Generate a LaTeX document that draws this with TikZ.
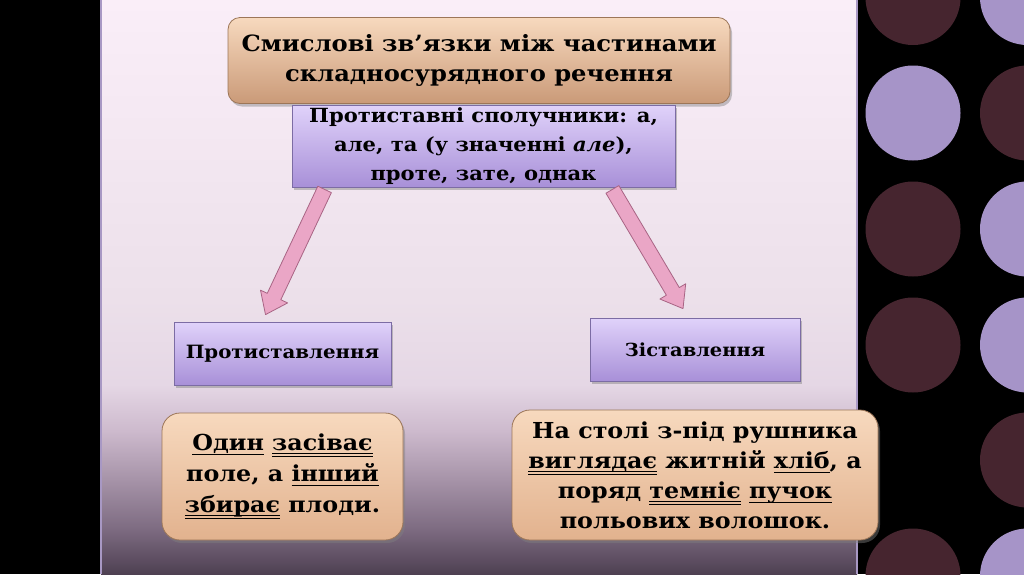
\documentclass[tikz,border=0pt]{standalone}
\usepackage{fontspec}
\setmainfont{DejaVu Serif}[FakeStretch=1.08]
\usetikzlibrary{calc,shadows}
\definecolor{cdark}{HTML}{46252F}
\definecolor{clav}{HTML}{A694C8}
\definecolor{ptop}{HTML}{FAEEF8}
\definecolor{pm}{HTML}{ECE0EA}
\definecolor{pb1}{HTML}{E5D7E5}
\definecolor{pb2}{HTML}{CDBACD}
\definecolor{pb3}{HTML}{A693A8}
\definecolor{pb4}{HTML}{7E6C82}
\definecolor{pb5}{HTML}{4E4052}
\definecolor{pedge}{HTML}{A898C4}
\definecolor{tan1}{HTML}{F7D9BE}
\definecolor{tan2}{HTML}{CA9A78}
\definecolor{tan3}{HTML}{E2B28E}
\definecolor{tanedge}{HTML}{9C7658}
\definecolor{lav1}{HTML}{E0D2FA}
\definecolor{lav2}{HTML}{A890D8}
\definecolor{lavedge}{HTML}{7C6CA4}
\definecolor{pinkfill}{HTML}{EAA6C6}
\definecolor{pinkedge}{HTML}{A86484}
\pgfdeclareverticalshading{panelshade}{100bp}{color(0bp)=(pb5); color(25bp)=(pb5); color(29bp)=(pb4); color(33.2bp)=(pb3); color(37.5bp)=(pb2); color(41.5bp)=(pb1); color(49bp)=(pm); color(75bp)=(ptop); color(100bp)=(ptop)}
\newcommand\sgl[1]{\setbox0\hbox{#1}\rlap{\raisebox{-5pt}{\rule{\wd0}{1.5pt}}}\box0\relax}
\newcommand\dbl[1]{\setbox0\hbox{#1}\rlap{\raisebox{-4pt}{\rule{\wd0}{1.1pt}}}\rlap{\raisebox{-6.8pt}{\rule{\wd0}{1.1pt}}}\box0\relax}
\newcommand\fatarrow[2]{%
 \filldraw[arrowbody] let \p1=(#1), \p2=(#2), \n1={atan2(\y2-\y1,\x2-\x1)} in
   ($(\p1)+(\n1+90:7.5pt)$) -- ($(\p2)!20pt!(\p1)+(\n1+90:7.5pt)$) -- ($(\p2)!20pt!(\p1)+(\n1+90:15pt)$) -- (\p2) -- ($(\p2)!20pt!(\p1)+(\n1-90:15pt)$) -- ($(\p2)!20pt!(\p1)+(\n1-90:7.5pt)$) -- ($(\p1)+(\n1-90:7.5pt)$) -- cycle;}
\tikzset{
 shad/.style={drop shadow={opacity=0.45, shadow xshift=2pt, shadow yshift=-3pt}},
 tanbox/.style={shad, rounded corners=#1, draw=tanedge, line width=0.8pt, top color=tan1, bottom color=tan2, align=center, inner sep=0pt, text=black},
 tanbox/.default=12pt,
 lavbox/.style={shad, draw=lavedge, line width=0.8pt, top color=lav1, bottom color=lav2, align=center, inner sep=0pt, text=black},
 arrowbody/.style={fill=pinkfill, draw=pinkedge, line width=0.8pt, line join=round},
 txt/.style={font=\bfseries\fontsize{#1}{30}\selectfont},
}
\begin{document}
\begin{tikzpicture}[x=1pt,y=-1pt]
\useasboundingbox (0,0) rectangle (1024,574);
\fill[black] (0,0) rectangle (1024,574);
\foreach \yy/\cc in {-2.5/cdark,113/clav,229/cdark,345/cdark,576/cdark}
  \fill[\cc] (913,\yy) circle[radius=47.5pt];
\foreach \yy/\cc in {-2.5/clav,113/cdark,229/clav,345/clav,460/cdark,576/clav}
  \fill[\cc] (1027.5,\yy) circle[radius=47.5pt];
\shade[shading=panelshade] (101,0) rectangle (857,574);
\draw[pedge, line width=1.5pt] (101,0) -- (101,574);
\draw[pedge, line width=1.5pt] (857,0) -- (857,574);

\node[tanbox, txt=22.4, minimum width=502pt, minimum height=86pt] (title) at (479,60.5)
  {Смислові зв’язки між частинами\\складносурядного речення};
\node[lavbox, font=\bfseries\fontsize{19.5}{29}\selectfont, minimum width=383pt, minimum height=82pt] (conj) at (483.5,146)
  {Протиставні сполучники: а,\\але, та (у значенні \textit{але}),\\проте, зате, однак};
\node[lavbox, txt=18.3, minimum width=217pt, minimum height=63pt] (opp) at (282.5,353.5) {Протиставлення};
\node[lavbox, txt=18, minimum width=210pt, minimum height=63pt] (zis) at (695,349.5) {Зіставлення};
\node[tanbox=18pt, font=\bfseries\fontsize{22}{31}\selectfont, top color=tan1, bottom color=tan3, minimum width=241pt, minimum height=127pt] (ex1) at (282.5,476.5)
  {\sgl{Один} \dbl{засіває}\\поле, а \sgl{інший}\\\dbl{збирає} плоди.};
\node[tanbox=18pt, font=\bfseries\fontsize{22}{30}\selectfont, top color=tan1, bottom color=tan3, minimum width=366pt, minimum height=130pt] (ex2) at (695,475)
  {На столі з-під рушника\\\dbl{виглядає} житній \sgl{хліб}, а\\поряд \dbl{темніє} \sgl{пучок}\\польових волошок.};

\coordinate (la-s) at ([xshift=33pt,yshift=-2pt]conj.south west);
\coordinate (la-e) at ([xshift=-17pt,yshift=7pt]opp.north);
\coordinate (ra-s) at ([xshift=-63pt,yshift=-2pt]conj.south east);
\coordinate (ra-e) at ([xshift=-12pt,yshift=9pt]zis.north);
\fatarrow{la-s}{la-e}
\fatarrow{ra-s}{ra-e}
\end{tikzpicture}
\end{document}
